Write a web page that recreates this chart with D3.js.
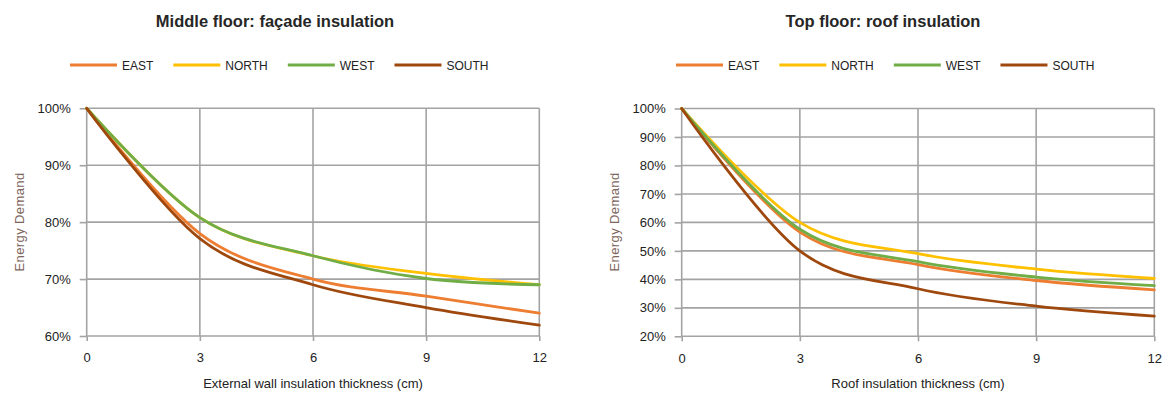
<!DOCTYPE html>
<html>
<head>
<meta charset="utf-8">
<script src="https://cdn.jsdelivr.net/npm/d3@7"></script>
<style>
  html, body { margin: 0; padding: 0; background: #fff; }
  svg { display: block; font-family: "Liberation Sans", Arial, sans-serif; }
</style>
</head>
<body>
<svg id="chart" width="1167" height="394"></svg>
<script>
// Insulation thickness (cm) at which energy demand was simulated
const thickness = [0, 3, 6, 9, 12];
const orientations = ["EAST", "NORTH", "WEST", "SOUTH"];
const orientationColors = ["#ED7D31", "#FFC000", "#70AD47", "#9E480E"];

// Middle floor, façade insulation: energy demand (% of uninsulated case)
const facadeEast  = [100, 78.0, 70.0, 67.0, 64.0];
const facadeNorth = [100, 80.8, 74.1, 71.0, 69.0];
const facadeWest  = [100, 80.8, 74.1, 70.1, 69.0];
const facadeSouth = [100, 77.1, 69.0, 65.0, 61.9];

// Top floor, roof insulation: energy demand (% of uninsulated case)
const roofEast  = [100, 56.6, 45.2, 39.6, 36.3];
const roofNorth = [100, 60.0, 49.0, 43.6, 40.3];
const roofWest  = [100, 57.6, 46.2, 40.8, 37.8];
const roofSouth = [100, 50.0, 36.7, 30.6, 27.1];

const xTicks = [0, 3, 6, 9, 12];
const facadeYTicks = [60, 70, 80, 90, 100];
const roofYTicks = [20, 30, 40, 50, 60, 70, 80, 90, 100];

const svg = d3.select("#chart");

function drawPanel(cfg) {
  const g = svg.append("g");
  const x = d3.scaleLinear().domain([0, 12]).range([cfg.left, cfg.right]);
  const y = d3.scaleLinear().domain([cfg.yTicks[0], 100]).range([cfg.bottom, cfg.top]);

  // Gridlines
  g.append("g")
    .selectAll("line.h")
    .data(cfg.yTicks)
    .join("line")
    .attr("x1", cfg.left).attr("x2", cfg.right)
    .attr("y1", d => y(d)).attr("y2", d => y(d))
    .attr("stroke", "#a3a3a3").attr("stroke-width", 1.6);
  g.append("g")
    .selectAll("line.v")
    .data(xTicks)
    .join("line")
    .attr("x1", d => x(d)).attr("x2", d => x(d))
    .attr("y1", cfg.top).attr("y2", cfg.bottom)
    .attr("stroke", "#a3a3a3").attr("stroke-width", 1.6);

  // Axes (ticks and labels)
  const yAxis = g.append("g")
    .attr("transform", `translate(${cfg.left},0)`)
    .call(d3.axisLeft(y).tickValues(cfg.yTicks).tickSize(7).tickPadding(9)
      .tickFormat(d => d + "%"));
  const xAxis = g.append("g")
    .attr("transform", `translate(0,${cfg.bottom})`)
    .call(d3.axisBottom(x).tickValues(xTicks).tickSize(5).tickPadding(12));
  [yAxis, xAxis].forEach(a => {
    a.select(".domain").remove();
    a.selectAll(".tick line").attr("stroke", "#a3a3a3").attr("stroke-width", 1.6);
    a.selectAll(".tick text")
      .attr("fill", "#222")
      .style("font-size", "13px")
      .style("font-family", "'Liberation Sans', Arial, sans-serif");
  });

  // Series
  const line = d3.line()
    .x((d, i) => x(thickness[i]))
    .y(d => y(d))
    .curve(d3.curveCardinal.tension(0));
  cfg.series.forEach((vals, i) => {
    g.append("path")
      .datum(vals)
      .attr("d", line)
      .attr("fill", "none")
      .attr("stroke", orientationColors[i])
      .attr("stroke-width", 2.8)
      .attr("stroke-linejoin", "round")
      .attr("stroke-linecap", "round");
  });

  // Title
  g.append("text")
    .attr("x", cfg.titleX).attr("y", 27)
    .attr("text-anchor", "middle")
    .attr("fill", "#262626")
    .style("font-size", "16.5px")
    .style("font-weight", "bold")
    .text(cfg.title);

  // Axis titles
  g.append("text")
    .attr("x", (cfg.left + cfg.right) / 2).attr("y", 388)
    .attr("text-anchor", "middle")
    .attr("fill", "#222")
    .style("font-size", "13px")
    .text(cfg.xTitle);
  g.append("text")
    .attr("transform", `translate(${cfg.yTitleX},222) rotate(-90)`)
    .attr("text-anchor", "middle")
    .attr("fill", "#7d655c")
    .style("font-size", "13px")
    .style("letter-spacing", "0.4px")
    .text("Energy Demand");

  // Legend
  let lx = cfg.legendX;
  orientations.forEach((name, i) => {
    g.append("line")
      .attr("x1", lx).attr("x2", lx + 47)
      .attr("y1", 65).attr("y2", 65)
      .attr("stroke", orientationColors[i])
      .attr("stroke-width", 3);
    const t = g.append("text")
      .attr("x", lx + 52).attr("y", 69.5)
      .attr("fill", "#222")
      .style("font-size", "12px")
      .text(name);
    lx = lx + 52 + t.node().getComputedTextLength() + 20;
  });
}

drawPanel({
  title: "Middle floor: façade insulation",
  xTitle: "External wall insulation thickness (cm)",
  left: 86.7, right: 539.3, top: 108.3, bottom: 336,
  yTicks: facadeYTicks,
  series: [facadeEast, facadeNorth, facadeWest, facadeSouth],
  titleX: 275, yTitleX: 24, legendX: 70
});

drawPanel({
  title: "Top floor: roof insulation",
  xTitle: "Roof insulation thickness (cm)",
  left: 681.7, right: 1154.3, top: 108.5, bottom: 336.3,
  yTicks: roofYTicks,
  series: [roofEast, roofNorth, roofWest, roofSouth],
  titleX: 883, yTitleX: 619, legendX: 676
});
</script>
</body>
</html>
